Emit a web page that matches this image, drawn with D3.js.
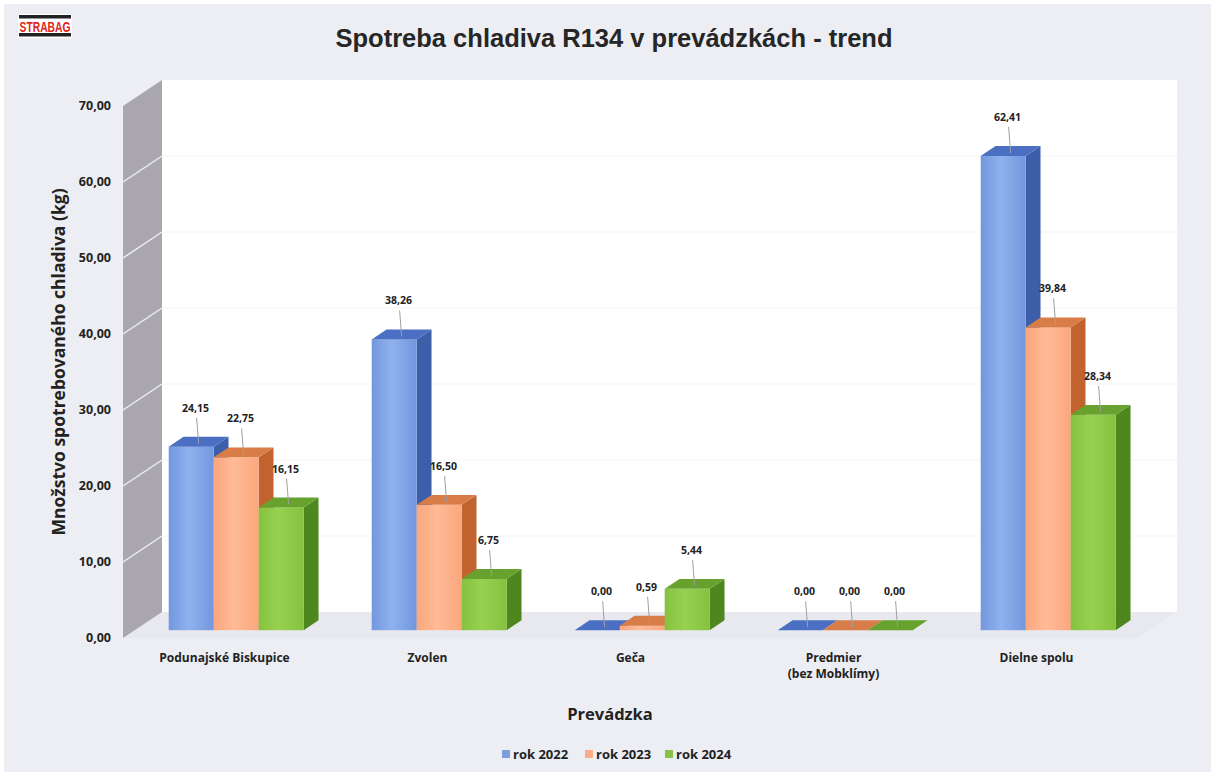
<!DOCTYPE html>
<html>
<head>
<meta charset="utf-8">
<style>
  body { margin: 0; background: #fff; }
  svg text { font-family: "Open Sans", "Noto Sans", sans-serif; }
</style>
</head>
<body>
<svg id="chart" width="1215" height="776"></svg>
<script src="https://cdn.jsdelivr.net/npm/d3@7"></script>
<script>
// values
const categories = ['Podunajské Biskupice', 'Zvolen', 'Geča', 'Predmier\n(bez Mobklímy)', 'Dielne spolu']
const seriesNames = ['rok 2022', 'rok 2023', 'rok 2024']
const values2022 = [24.15, 38.26, 0.00, 0.00, 62.41]
const values2023 = [22.75, 16.50, 0.59, 0.00, 39.84]
const values2024 = [16.15, 6.75, 5.44, 0.00, 28.34]
const yTicks = [0, 10, 20, 30, 40, 50, 60, 70]

const seriesValues = [values2022, values2023, values2024]
const colors = [
  { front: ['#7297dd', '#8fb1ee'], side: '#3d5fa9', top: '#4b70c3', key: '#7d9fe2' },
  { front: ['#fba67d', '#ffbb97'], side: '#c2632f', top: '#d87c48', key: '#fbae86' },
  { front: ['#85c13f', '#98d152'], side: '#4d871d', top: '#66a22d', key: '#86c247' }
]

const svg = d3.select('#chart')
const fmt = v => d3.format('.2f')(v).replace('.', ',')

// depth of the 3D box
const DX = 39, DY = 26
const y = d3.scaleLinear().domain([0, 70]).range([638, 106])
const x0 = d3.scaleBand().domain(categories).range([123, 1138])
  .paddingInner(0.335).paddingOuter(0.1675)
const x1 = d3.scaleBand().domain(seriesNames).range([0, x0.bandwidth()])
const P = (xf, v, z) => [xf + z * DX, y(v) - z * DY]
const poly = pts => 'M' + pts.map(p => p.join(',')).join('L') + 'Z'

// background
svg.append('rect').attr('x', 4).attr('y', 4).attr('width', 1207).attr('height', 768)
  .attr('fill', '#eceef3')

const defs = svg.append('defs')
colors.forEach((c, i) => {
  const g = defs.append('linearGradient').attr('id', 'gf' + i)
  g.append('stop').attr('offset', '0%').attr('stop-color', c.front[0])
  g.append('stop').attr('offset', '45%').attr('stop-color', c.front[1])
  g.append('stop').attr('offset', '100%').attr('stop-color', c.front[0])
})

// walls and floor
const xl = x0.range()[0], xr = x0.range()[1]
svg.append('path').attr('d', poly([P(xl, 0, 1), P(xl, 70, 1), P(xr, 70, 1), P(xr, 0, 1)]))
  .attr('fill', '#ffffff')
svg.append('path').attr('d', poly([P(xl, 0, 0), P(xr, 0, 0), P(xr, 0, 1), P(xl, 0, 1)]))
  .attr('fill', '#e7e9ef')
svg.append('path').attr('d', poly([P(xl, 0, 0), P(xl, 70, 0), P(xl, 70, 1), P(xl, 0, 1)]))
  .attr('fill', '#a9a6ad')
svg.append('g').selectAll('line')
  .data(yTicks.filter(t => t > 0 && t < 70))
  .join('line')
  .attr('x1', xl).attr('y1', d => P(xl, d, 0)[1])
  .attr('x2', xl + DX).attr('y2', d => P(xl, d, 1)[1])
  .attr('stroke', '#ececf0').attr('stroke-width', 1.5)
svg.append('g').selectAll('line')
  .data(yTicks.filter(t => t > 0 && t < 70))
  .join('line')
  .attr('x1', xl + DX).attr('y1', d => P(xl, d, 1)[1])
  .attr('x2', xr + DX).attr('y2', d => P(xl, d, 1)[1])
  .attr('stroke', '#f3f4f6').attr('stroke-width', 1)

// y tick labels
svg.append('g').selectAll('text')
  .data(yTicks)
  .join('text')
  .attr('x', 111).attr('y', d => y(d))
  .attr('dy', '0.35em')
  .attr('text-anchor', 'end')
  .attr('font-size', 12.5).attr('font-weight', 700).attr('fill', '#222')
  .text(fmt)

// bars
const Z0 = 0.3, Z1 = 0.68
const bars = []
categories.forEach((c, ci) => seriesNames.forEach((s, si) => {
  bars.push({ c, s, si, v: seriesValues[si][ci] })
}))
const bw = x1.bandwidth()
const gBars = svg.append('g')
bars.forEach(d => {
  const xf = x0(d.c) + x1(d.s)
  const col = colors[d.si]
  const fTL = P(xf, d.v, Z0), fBR = P(xf + bw, 0, Z0)
  const bT = P(xf + bw, d.v, Z1), bB = P(xf + bw, 0, Z1)
  const tL = P(xf, d.v, Z1)
  gBars.append('path').attr('d', poly([P(xf + bw, 0, Z0), P(xf + bw, d.v, Z0), bT, bB]))
    .attr('fill', col.side)
  gBars.append('rect')
    .attr('x', fTL[0]).attr('y', fTL[1])
    .attr('width', fBR[0] - fTL[0]).attr('height', Math.max(0, fBR[1] - fTL[1]))
    .attr('fill', `url(#gf${d.si})`)
  gBars.append('path').attr('d', poly([fTL, tL, bT, P(xf + bw, d.v, Z0)]))
    .attr('fill', col.top)
})

// data labels with leader lines
const gLab = svg.append('g')
bars.forEach(d => {
  const xf = x0(d.c) + x1(d.s)
  const tc = P(xf + bw / 2, d.v, (Z0 + Z1) / 2)
  const lx = tc[0] - 3, ly = tc[1] - 30
  gLab.append('line')
    .attr('x1', tc[0]).attr('y1', tc[1] + 2)
    .attr('x2', lx + 1).attr('y2', ly + 6)
    .attr('stroke', '#a0a0a0').attr('stroke-width', 1)
  gLab.append('text')
    .attr('x', lx).attr('y', ly)
    .attr('text-anchor', 'middle')
    .attr('font-size', 10.5).attr('font-weight', 700).attr('fill', '#222')
    .text(fmt(d.v))
})

// category labels
svg.append('g').selectAll('text')
  .data(categories)
  .join('text')
  .attr('x', d => x0(d) + x0.bandwidth() / 2)
  .attr('y', 662)
  .attr('text-anchor', 'middle')
  .attr('font-size', 12).attr('font-weight', 700).attr('fill', '#222')
  .each(function (d) {
    const t = d3.select(this)
    d.split('\n').forEach((line, i) => {
      t.append('tspan').attr('x', x0(d) + x0.bandwidth() / 2)
        .attr('dy', i ? 16 : 0).text(line)
    })
  })

// titles
svg.append('text').attr('x', 614).attr('y', 47)
  .attr('text-anchor', 'middle')
  .style('font-family', '"Liberation Sans", Arial, sans-serif')
  .attr('font-size', 25.5).attr('font-weight', 700).attr('fill', '#262626')
  .text('Spotreba chladiva R134 v prevádzkách - trend')
svg.append('text').attr('transform', 'translate(65,362) rotate(-90)')
  .attr('text-anchor', 'middle')
  .attr('font-size', 17.5).attr('font-weight', 700).attr('fill', '#222')
  .text('Množstvo spotrebovaného chladiva (kg)')
svg.append('text').attr('x', 610).attr('y', 720)
  .attr('text-anchor', 'middle')
  .attr('font-size', 16.5).attr('font-weight', 700).attr('fill', '#222')
  .text('Prevádzka')

// legend
const legendX = [502, 585, 665]
const lg = svg.append('g').selectAll('g')
  .data(seriesNames)
  .join('g')
  .attr('transform', (d, i) => `translate(${legendX[i]},754)`)
lg.append('rect').attr('x', 0).attr('y', -4).attr('width', 8).attr('height', 8)
  .attr('fill', (d, i) => colors[i].key)
lg.append('text').attr('x', 11).attr('dy', '0.35em')
  .attr('font-size', 13).attr('font-weight', 700).attr('fill', '#222')
  .text(d => d)

// logo
const logo = svg.append('g').attr('transform', 'translate(18,14)')
logo.append('rect').attr('width', 54).attr('height', 24).attr('fill', '#fff')
logo.append('rect').attr('x', 1).attr('y', 1).attr('width', 52).attr('height', 3.5).attr('fill', '#222')
logo.append('rect').attr('x', 1).attr('y', 19).attr('width', 52).attr('height', 3.5).attr('fill', '#222')
logo.append('text').attr('x', 27).attr('y', 17.5)
  .attr('text-anchor', 'middle')
  .style('font-family', '"Liberation Sans Narrow", "Liberation Sans", sans-serif')
  .attr('font-size', 14).attr('font-weight', 700).attr('fill', '#e2231a')
  .attr('textLength', 51).attr('lengthAdjust', 'spacingAndGlyphs')
  .text('STRABAG')
</script>
</body>
</html>
